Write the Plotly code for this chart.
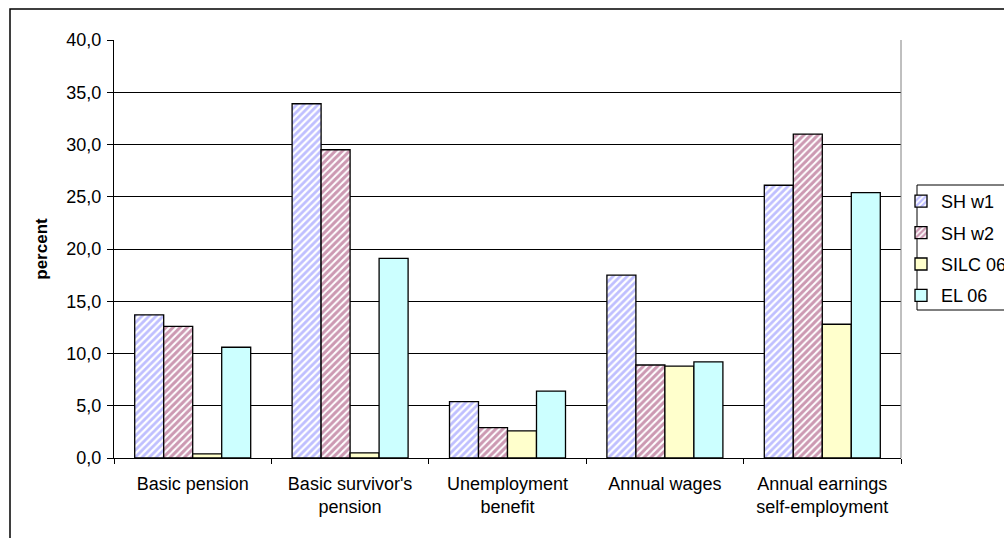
import plotly.graph_objects as go

categories = ["Basic pension", "Basic survivor's<br>pension", "Unemployment<br>benefit",
              "Annual wages", "Annual earnings<br>self-employment"]
sh_w1 = [13.7, 33.9, 5.4, 17.5, 26.1]
sh_w2 = [12.6, 29.5, 2.9, 8.9, 31.0]
silc_06 = [0.4, 0.5, 2.6, 8.8, 12.8]
el_06 = [10.6, 19.1, 6.4, 9.2, 25.4]
y_ticks = [0, 5, 10, 15, 20, 25, 30, 35, 40]

W, H = 1004, 538
L, R, T, B = 114, 1004 - 901, 40, 538 - 458
pw, ph = W - L - R, H - T - B

def px_x(p):
    return (p - L) / pw

def px_y(p):
    return (H - B - p) / ph

FONT = "Liberation Sans, Arial, sans-serif"

series = [
    ("SH w1", sh_w1, dict(color="white", line=dict(color="black", width=1.3),
                          pattern=dict(shape="/", fgcolor="#8080FF", bgcolor="white", size=5, solidity=0.55))),
    ("SH w2", sh_w2, dict(color="white", line=dict(color="black", width=1.3),
                          pattern=dict(shape="/", fgcolor="#993366", bgcolor="white", size=5, solidity=0.6))),
    ("SILC 06", silc_06, dict(color="#FFFFCC", line=dict(color="black", width=1.3))),
    ("EL 06", el_06, dict(color="#CCFFFF", line=dict(color="black", width=1.3))),
]

fig = go.Figure()
for i, (name, vals, marker) in enumerate(series):
    fig.add_trace(go.Bar(x=categories, y=vals, name=name, marker=marker, legendgroup=name))

fig.update_layout(
    width=W, height=H,
    margin=dict(l=L, r=R, t=T, b=B, autoexpand=False),
    paper_bgcolor="white", plot_bgcolor="white",
    separators=", ",
    barmode="group", bargap=0.263, bargroupgap=0,
    font=dict(family=FONT, size=18, color="black"),
    showlegend=True,
    legend=dict(x=px_x(901), xanchor="left", y=px_y(183), yanchor="top",
                borderwidth=0, bgcolor="rgba(0,0,0,0)",
                font=dict(family=FONT, size=18, color="black"),
                tracegroupgap=5, traceorder="grouped"),
    xaxis=dict(type="category", tickson="boundaries", ticks="outside", ticklen=5,
               tickcolor="black", showline=True, linecolor="black", linewidth=1,
               showgrid=False, ticklabelstandoff=9,
               tickfont=dict(family=FONT, size=18, color="black")),
    yaxis=dict(range=[0, 40], tickvals=y_ticks, tickformat=".1f", ticks="outside", ticklen=6,
               tickcolor="black", showline=True, linecolor="black", linewidth=1,
               showgrid=True, gridcolor="black", gridwidth=1, zeroline=False,
               ticklabelstandoff=2,
               tickfont=dict(family=FONT, size=18, color="black"),
               title=dict(text="<b>percent</b>", font=dict(family=FONT, size=17, color="black"), standoff=14)),
    shapes=[
        dict(type="line", xref="paper", yref="paper", x0=1, x1=1, y0=0, y1=1,
             line=dict(color="#808080", width=1)),
        dict(type="rect", xref="paper", yref="paper", x0=px_x(10), x1=px_x(1015),
             y0=px_y(550), y1=px_y(9), line=dict(color="black", width=1.5)),
        dict(type="rect", xref="paper", yref="paper", x0=px_x(917), x1=px_x(1015),
             y0=px_y(310), y1=px_y(185), line=dict(color="black", width=1), layer="below"),
    ],
)

fig.write_html("out.html")
